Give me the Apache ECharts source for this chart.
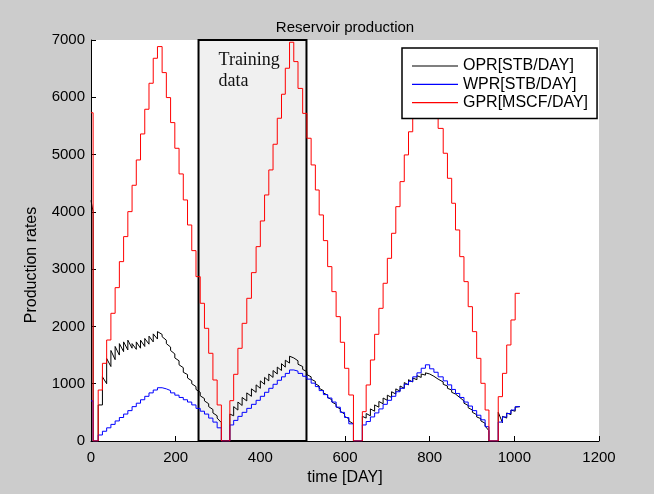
<!DOCTYPE html>
<html>
<head>
<meta charset="utf-8">
<title>Reservoir production</title>
<script src="https://cdn.jsdelivr.net/npm/echarts@6/dist/echarts.min.js"></script>
<style>
  html, body { margin: 0; padding: 0; background: #cccccc; }
  #chart { width: 654px; height: 494px; }
</style>
</head>
<body>
<div id="chart"></div>
<script>
// Start day of each control period (days); the last period runs to lastDay.
const periodStart = [
  0, 5,
  17, 27, 37, 47, 57, 67, 77, 87, 97, 107, 117, 127, 137, 147, 157,
  168, 178, 188, 198, 208, 218, 228, 238, 248, 258, 268, 278, 288, 298,
  308,
  328, 337, 347, 357, 368, 379, 390, 400, 410, 420, 430, 440, 450, 459, 469,
  479, 489, 500, 510, 520, 530, 539, 549, 559, 569, 579, 589, 599, 609,
  620,
  641, 650, 660, 670, 680, 690, 700, 710, 720, 730, 740, 750, 760, 770, 780, 790,
  800, 810, 820, 832, 842, 852, 861, 871, 881, 891, 901, 911, 921, 931,
  940,
  962, 972, 982, 992, 1002
];
const lastDay = 1013;

// Gas production rate per period [MSCF/DAY]
const gprRates = [
  5730, 0,
  890, 1356, 1763, 2229, 2677, 3131, 3568, 4004, 4464, 4906, 5360, 5791, 6245, 6681, 6885,
  6431, 5995, 5558, 5110, 4662, 4208, 3771, 3323, 2869, 2404, 1967, 1531, 1065, 629,
  0,
  704, 1164, 1618, 2054, 2491, 2939, 3393, 3841, 4295, 4732, 5180, 5634, 6053, 6507, 6961,
  6623, 6155, 5719, 5285, 4819, 4382, 3946, 3498, 3044, 2607, 2171, 1723, 1269, 803,
  0,
  512, 978, 1414, 1862, 2316, 2753, 3189, 3626, 4091, 4528, 4994, 5398, 5860, 6300, 6740, 6820,
  6360, 5910, 5457, 5023, 4586, 4150, 3684, 3218, 2782, 2345, 1909, 1443, 1007, 541,
  0,
  774, 1181, 1676, 2113, 2578
];

// Water production rate per period [STB/DAY]
const wprRates = [
  700, 0,
  105, 170, 230, 290, 350, 410, 470, 530, 600, 660, 720, 780, 840, 890, 930,
  910, 880, 840, 800, 760, 720, 680, 630, 570, 520, 470, 400, 330, 230,
  0,
  280, 360, 430, 500, 570, 640, 710, 780, 850, 920, 990, 1060, 1120, 1180, 1240,
  1220, 1180, 1130, 1080, 1010, 950, 880, 810, 750, 680, 590, 500, 410, 300,
  0,
  280, 340, 420, 490, 560, 640, 710, 780, 860, 920, 990, 1040, 1120, 1190, 1270, 1330,
  1260, 1200, 1120, 1050, 980, 900, 830, 760, 680, 610, 530, 450, 370, 250,
  0,
  330, 420, 480, 540, 600
];

// Oil production rate at the start and at the end of each period [STB/DAY]
const oprStart = [
  4200, 0,
  629, 1120, 1440, 1580, 1650, 1700, 1730, 1760, 1700, 1730, 1760, 1790, 1830, 1870, 1910,
  1820, 1700, 1580, 1450, 1330, 1200, 1100, 1000, 900, 790, 700, 600, 490, 400,
  0,
  470, 600, 680, 760, 840, 910, 980, 1050, 1110, 1170, 1230, 1290, 1350, 1410, 1480,
  1440, 1340, 1250, 1160, 1080, 1000, 920, 840, 760, 680, 600, 520, 430, 350,
  0,
  430, 480, 560, 630, 690, 750, 800, 860, 910, 960, 1020, 1070, 1100, 1140, 1170, 1190,
  1160, 1110, 1060, 990, 920, 850, 790, 730, 660, 580, 500, 420, 350, 260,
  0,
  500, 430, 490, 540, 590
];
const oprEnd = [
  4000, 0,
  629, 1000, 1300, 1420, 1500, 1560, 1590, 1620, 1600, 1620, 1650, 1690, 1730, 1780, 1860,
  1760, 1640, 1520, 1400, 1280, 1160, 1050, 950, 850, 740, 650, 550, 440, 320,
  0,
  440, 540, 620, 700, 780, 850, 920, 990, 1050, 1110, 1170, 1230, 1290, 1360, 1450,
  1400, 1300, 1210, 1120, 1040, 960, 880, 800, 720, 640, 560, 470, 390, 300,
  0,
  400, 440, 520, 590, 650, 710, 760, 820, 870, 920, 980, 1030, 1070, 1110, 1150, 1170,
  1130, 1080, 1030, 960, 890, 820, 760, 700, 620, 540, 460, 390, 310, 180,
  0,
  320, 400, 460, 520, 600
];

// Window used for training (days)
const trainingWindow = [254, 509];

// Axis ranges and tick spacing
const xRange = [0, 1200], xStep = 200;
const yRange = [0, 7000], yStep = 1000;

const seriesNames = ['OPR[STB/DAY]', 'WPR[STB/DAY]', 'GPR[MSCF/DAY]'];

function periodEnd(i) {
  return i + 1 < periodStart.length ? periodStart[i + 1] : lastDay;
}
// Piecewise series: value held (or ramped) within each period, vertical jumps between.
function buildPath(startVals, endVals) {
  const out = [];
  for (let i = 0; i < periodStart.length; i++) {
    out.push([periodStart[i], startVals[i]]);
    out.push([periodEnd(i), endVals[i]]);
  }
  return out;
}

const FONT = '"Liberation Sans", Arial, Helvetica, sans-serif';
const plainNumber = v => String(v);
const chart = echarts.init(document.getElementById('chart'), null, { renderer: 'canvas' });

const lineBase = {
  type: 'line',
  symbol: 'none',
  showSymbol: false,
  animation: false,
  silent: true,
  emphasis: { disabled: true }
};

chart.setOption({
  backgroundColor: '#cccccc',
  animation: false,
  title: {
    text: 'Reservoir production',
    left: 345,
    top: 20,
    textAlign: 'center',
    padding: 0,
    textStyle: { fontSize: 15, fontWeight: 'normal', color: '#000', fontFamily: FONT, lineHeight: 15 }
  },
  grid: {
    left: 91, right: 55, top: 40, bottom: 53,
    show: true, backgroundColor: '#ffffff', borderWidth: 0
  },
  legend: {
    data: seriesNames,
    orient: 'vertical',
    left: 402,
    top: 48,
    padding: [10, 9, 8, 10],
    itemGap: 2.3,
    itemWidth: 46,
    itemHeight: 1.2,
    icon: 'rect',
    backgroundColor: '#ffffff',
    borderColor: '#000',
    borderWidth: 1.5,
    selectedMode: false,
    textStyle: { fontSize: 16, lineHeight: 16, color: '#000', fontFamily: FONT }
  },
  xAxis: {
    type: 'value',
    min: xRange[0], max: xRange[1], interval: xStep,
    name: 'time [DAY]',
    nameLocation: 'middle',
    nameGap: 29,
    nameTextStyle: { fontSize: 16, color: '#000', fontFamily: FONT },
    axisLine: { show: true, onZero: false, lineStyle: { color: '#000', width: 1 } },
    axisTick: { show: true, inside: true, length: 5, lineStyle: { color: '#000' } },
    axisLabel: { fontSize: 15, color: '#000', margin: 9, fontFamily: FONT, formatter: plainNumber },
    splitLine: { show: false }
  },
  yAxis: {
    type: 'value',
    min: yRange[0], max: yRange[1], interval: yStep,
    axisLine: { show: true, lineStyle: { color: '#000', width: 1 } },
    axisTick: { show: true, inside: true, length: 5, lineStyle: { color: '#000' } },
    axisLabel: { fontSize: 15, color: '#000', margin: 6, fontFamily: FONT, formatter: plainNumber },
    splitLine: { show: false }
  },
  graphic: [{
    type: 'text',
    x: 31.5,
    y: 265,
    rotation: Math.PI / 2,
    silent: true,
    style: {
      text: 'Production rates',
      font: '16px ' + FONT,
      fill: '#000',
      align: 'center',
      verticalAlign: 'middle'
    }
  }],
  series: [
    Object.assign({}, lineBase, {
      name: seriesNames[0],
      data: buildPath(oprStart, oprEnd),
      color: '#000000',
      lineStyle: { color: '#000000', width: 1 },
      markArea: {
        silent: true,
        itemStyle: { color: '#f0f0f0', borderColor: '#000', borderWidth: 2 },
        label: {
          show: true,
          position: [21, 11],
          formatter: 'Training\ndata',
          fontFamily: '"Liberation Serif", "Times New Roman", serif',
          fontSize: 18,
          lineHeight: 21,
          color: '#111'
        },
        data: [[
          { xAxis: trainingWindow[0], yAxis: yRange[0] },
          { xAxis: trainingWindow[1], yAxis: yRange[1] }
        ]]
      }
    }),
    Object.assign({}, lineBase, {
      name: seriesNames[1],
      data: buildPath(wprRates, wprRates),
      color: '#0000ff',
      lineStyle: { color: '#0000ff', width: 1 }
    }),
    Object.assign({}, lineBase, {
      name: seriesNames[2],
      data: buildPath(gprRates, gprRates),
      color: '#ff0000',
      lineStyle: { color: '#ff0000', width: 1 }
    })
  ]
});
</script>
</body>
</html>
